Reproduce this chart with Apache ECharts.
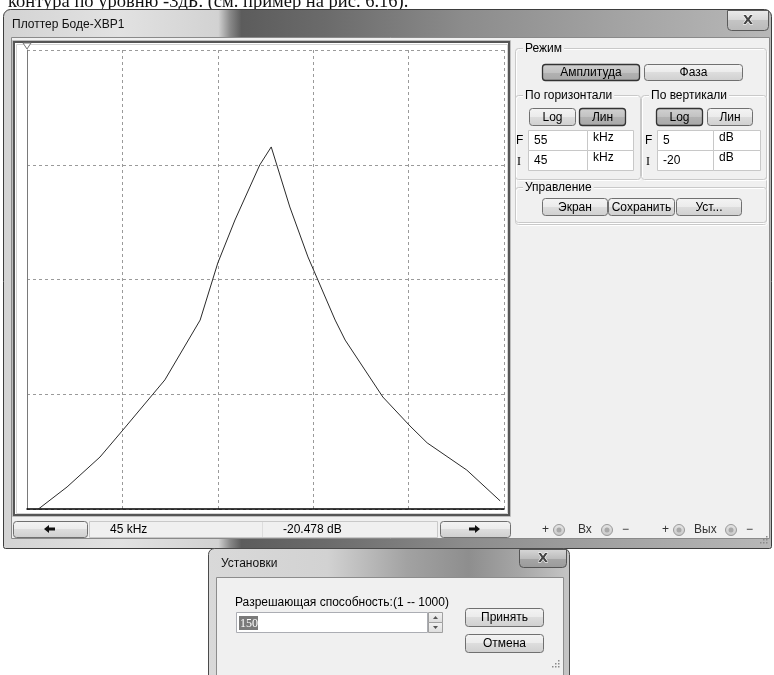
<!DOCTYPE html>
<html><head><meta charset="utf-8">
<script src="https://cdn.jsdelivr.net/npm/echarts@6/dist/echarts.min.js"></script>
<style>html,body{margin:0;padding:0;background:#fff;overflow:hidden}#c{width:774px;height:675px}</style>
</head><body><div id="c"></div>
<script>
const freqKHz = [45.00, 45.84, 46.53, 47.01, 47.89, 48.63, 49.00, 49.36, 49.88, 50.12, 50.51, 50.89, 51.46, 51.67, 52.46, 53.03, 53.39, 54.22, 54.92];
const gainDB  = [-20.48, -18.80, -17.17, -15.70, -12.97, -9.71, -6.60, -4.26, -1.26, -0.28, -3.55, -6.27, -9.71, -10.80, -13.90, -15.48, -16.40, -17.88, -19.56];
const freqRange = [45, 55];      // I / F horizontal, kHz
const gainRange = [-20, 5];      // I / F vertical, dB
const xDivisions = 5;
const yDivisions = 4;
const cursorReadout = ['45 kHz', '-20.478 dB'];
const hFields = [['55', 'kHz'], ['45', 'kHz']];
const vFields = [['5', 'dB'], ['-20', 'dB']];

const FONT = '"Liberation Sans", Arial, sans-serif';
function vgrad(stops){return {type:'linear',x:0,y:0,x2:0,y2:1,colorStops:stops.map(s=>({offset:s[0],color:s[1]}))};}
function hgrad(stops){return {type:'linear',x:0,y:0,x2:1,y2:0,colorStops:stops.map(s=>({offset:s[0],color:s[1]}))};}
const els = [];
function rect(x,y,w,h,fill,stroke,lw,r,z){els.push({type:'rect',silent:true,z:z===undefined?-1:z,shape:{x:x,y:y,width:w,height:h,r:r||0},style:{fill:fill||'none',stroke:stroke||null,lineWidth:lw||1}});}
function text(x,y,t,opt){opt=opt||{};els.push({type:'text',silent:true,z:opt.z===undefined?-1:opt.z,x:x,y:y,style:Object.assign({text:t,font:(opt.size||12)+'px '+FONT,fill:'#000',align:'left',verticalAlign:'middle'},opt.style||{})});}
function btn(x,y,w,h,label,pressed){
  const fill = pressed ? vgrad([[0,'#d2d2d2'],[0.5,'#c2c2c2'],[0.5,'#b2b2b2'],[1,'#a8a8a8']])
                       : vgrad([[0,'#f4f4f4'],[0.5,'#ebebeb'],[0.5,'#dddddd'],[1,'#cfcfcf']]);
  rect(x+0.5,y+0.5,w,h,fill,pressed?'#333':'#707070',pressed?1.3:1,3);
  if(label) text(x+w/2+0.5,y+h/2+1,label,{style:{align:'center'}});
}
function group(x,y,w,h,label){
  rect(x+1.5,y+1.5,w,h,'none','#ffffff',1,3);
  rect(x+0.5,y+0.5,w,h,'none','#c9c9c9',1,3);
  text(x+8,y+1,label,{style:{backgroundColor:'#f0f0f0',padding:[0,2]}});
}
function field(x,y,w,h,t,dy){
  rect(x+0.5,y+0.5,w,h,'#fff','#c8c8c8',1,0);
  text(x+6,y+h/2+(dy||1),t);
}

// page text above the screenshot (cut off)
text(8,12,'контура по уровню -3дБ. (см. пример на рис. 6.16).',{style:{font:'18.5px "Liberation Serif", serif',verticalAlign:'bottom',fill:'#111'}});

// main window frame
rect(3.5,9.5,768,539,hgrad([[0,'#d3d3d3'],[0.15,'#e2e2e2'],[0.28,'#d2d2d2'],[0.295,'#8a8a8a'],[0.31,'#5c5c5c'],[0.42,'#6b6b6b'],[0.6,'#8c8c8c'],[0.8,'#a3a3a3'],[1,'#b8b8b8']]),'#3d3d3d',1,[7,7,2,2]);
text(12,25,'Плоттер Боде-XBP1',{style:{fill:'#111'}});
rect(727.5,10.5,41,20,vgrad([[0,'#ececec'],[0.5,'#d6d6d6'],[0.5,'#c4c4c4'],[1,'#b9b9b9']]),'#5a5a5a',1,[0,0,4,4]);
text(748,20.5,'X',{style:{font:'bold 13px "DejaVu Sans"',fill:'#444',align:'center',stroke:'#fff',lineWidth:1}});
// client area
rect(11.5,37.5,758,501,'#f0f0f0','#8a8a8a',1,0);
// plot box (sunken)
rect(12.5,40.5,498,476,'#fff','#bdbdbd',1,0);
rect(14,42,495,473,'none','#555',2,0);
rect(16.5,44.5,491,469,'none','#d4d4d4',1,0);

// bottom readout bar
btn(13,521,74,16,'',false);
els.push({type:'polygon',silent:true,z:-1,shape:{points:[[44,529],[49,525],[49,527.5],[55,527.5],[55,530.5],[49,530.5],[49,533]]},style:{fill:'#111'}});
rect(89.5,521.5,348,16,'#f0f0f0','#c9c9c9',1,0);
rect(262.5,522,0.5,15,'#c9c9c9',null,1,0);
text(110,530,cursorReadout[0]);
text(283,530,cursorReadout[1]);
btn(440,521,70,16,'',false);
els.push({type:'polygon',silent:true,z:-1,shape:{points:[[480,529],[475,525],[475,527.5],[469,527.5],[469,530.5],[475,530.5],[475,533]]},style:{fill:'#111'}});
function radio(cx,cy){els.push({type:'circle',silent:true,z:-1,shape:{cx:cx,cy:cy,r:5.5},style:{fill:vgrad([[0,'#e6e6e6'],[1,'#c8c8c8']]),stroke:'#9a9a9a'}});els.push({type:'circle',silent:true,z:-1,shape:{cx:cx,cy:cy,r:2.5},style:{fill:'#a9a9a9'}});}
text(542,530,'+',{style:{fill:'#333'}}); radio(559,530); text(578,530,'Вх',{style:{fill:'#333'}}); radio(607,530); text(622,530,'−',{style:{fill:'#333'}});
text(662,530,'+',{style:{fill:'#333'}}); radio(679,530); text(694,530,'Вых',{style:{fill:'#333'}}); radio(731,530); text(746,530,'−',{style:{fill:'#333'}});
[[766,536],[763,539],[766,539],[760,542],[763,542],[766,542]].forEach(p=>rect(p[0],p[1],1.5,1.5,'#8a8a8a',null,1,0));

// right panel
group(515,48,251,176,'Режим');
btn(542,64,97,16,'Амплитуда',true);
btn(644,64,98,16,'Фаза',false);
group(515,95,125,84,'По горизонтали');
group(641,95,125,84,'По вертикали');
btn(529,108,46,17,'Log',false);
btn(579,108,46,17,'Лин',true);
btn(656,108,46,17,'Log',true);
btn(707,108,45,17,'Лин',false);
text(516,141,'F'); text(517,162,'I',{style:{font:'12px "Liberation Serif", serif'}});
field(528,130,59,20,hFields[0][0],1); field(587,130,46,20,hFields[0][1],-2);
field(528,150,59,20,hFields[1][0],1); field(587,150,46,20,hFields[1][1],-2);
text(645,141,'F'); text(646,162,'I',{style:{font:'12px "Liberation Serif", serif'}});
field(657,130,56,20,vFields[0][0],1); field(713,130,47,20,vFields[0][1],-2);
field(657,150,56,20,vFields[1][0],1); field(713,150,47,20,vFields[1][1],-2);
group(515,187,251,35,'Управление');
btn(542,198,65,17,'Экран',false);
btn(608,198,66,17,'Сохранить',false);
btn(676,198,65,17,'Уст...',false);

// settings dialog
rect(208.5,548.5,361,140,hgrad([[0,'#d9d9d9'],[0.33,'#d2d2d2'],[0.55,'#a2a2a2'],[0.72,'#8e8e8e'],[0.86,'#a6a6a6'],[1,'#c6c6c6']]),'#4a4a4a',1,[6,6,0,0]);
text(221,564,'Установки',{style:{fill:'#111'}});
rect(519.5,549.5,47,18,vgrad([[0,'#d8d8d8'],[0.5,'#bdbdbd'],[0.5,'#a6a6a6'],[1,'#9a9a9a']]),'#555',1,[0,0,4,4]);
text(543,558.5,'X',{style:{font:'bold 13px "DejaVu Sans"',fill:'#444',align:'center',stroke:'#fff',lineWidth:1}});
rect(216.5,577.5,347,110,'#f0f0f0','#8c8c8c',1,0);
text(235,603,'Разрешающая способность:(1 -- 1000)');
rect(236.5,612.5,191,20,'#fff','#abadb3',1,0);
rect(239,616,19,14,'#7a7a7a',null,1,0);
text(240,623.5,'150',{style:{fill:'#fff',font:'12px "Liberation Serif", serif'}});
rect(428.5,612.5,14,10,vgrad([[0,'#f4f4f4'],[1,'#dcdcdc']]),'#a0a0a0',1,0);
rect(428.5,622.5,14,10,vgrad([[0,'#f4f4f4'],[1,'#dcdcdc']]),'#a0a0a0',1,0);
els.push({type:'polygon',silent:true,z:-1,shape:{points:[[433,619],[438,619],[435.5,616]]},style:{fill:'#555'}});
els.push({type:'polygon',silent:true,z:-1,shape:{points:[[433,626],[438,626],[435.5,629]]},style:{fill:'#555'}});
btn(465,608,78,18,'Принять',false);
btn(465,634,78,18,'Отмена',false);
[[558,660],[555,663],[558,663],[552,666],[555,666],[558,666]].forEach(p=>rect(p[0],p[1],1.5,1.5,'#8a8a8a',null,1,0));

// cursor marker at top of left edge
els.push({type:'polygon',silent:true,z:10,shape:{points:[[23,43],[31,43],[27,49]]},style:{fill:'#fff',stroke:'#777'}});

const chart = echarts.init(document.getElementById('c'));
chart.setOption({
  animation:false,
  backgroundColor:'transparent',
  graphic:{elements:els},
  grid:{left:27,top:50,width:477,height:459},
  xAxis:[
    {type:'value',min:freqRange[0],max:freqRange[1],z:5,
     axisLine:{show:true,onZero:false,lineStyle:{color:'#000',width:1.5}},axisTick:{show:false},axisLabel:{show:false},splitLine:{show:false}},
    {type:'value',min:0,max:xDivisions,interval:1,position:'top',
     axisLine:{show:false},axisTick:{show:false},axisLabel:{show:false},
     splitLine:{show:true,lineStyle:{color:'#9a9a9a',type:[3,3],width:1}}}
  ],
  yAxis:[
    {type:'value',min:gainRange[0],max:gainRange[1],z:5,
     axisLine:{show:true,onZero:false,lineStyle:{color:'#7a7a7a',width:1}},axisTick:{show:false},axisLabel:{show:false},splitLine:{show:false}},
    {type:'value',min:0,max:yDivisions,interval:1,position:'right',
     axisLine:{show:false},axisTick:{show:false},axisLabel:{show:false},
     splitLine:{show:true,lineStyle:{color:'#9a9a9a',type:[3,3],width:1}}}
  ],
  series:[{
    type:'line',xAxisIndex:0,yAxisIndex:0,
    data:freqKHz.map((f,i)=>[f,gainDB[i]]),
    showSymbol:false,clip:true,silent:true,z:6,
    lineStyle:{color:'#2a2a2a',width:1}
  }]
});
</script>
</body></html>
